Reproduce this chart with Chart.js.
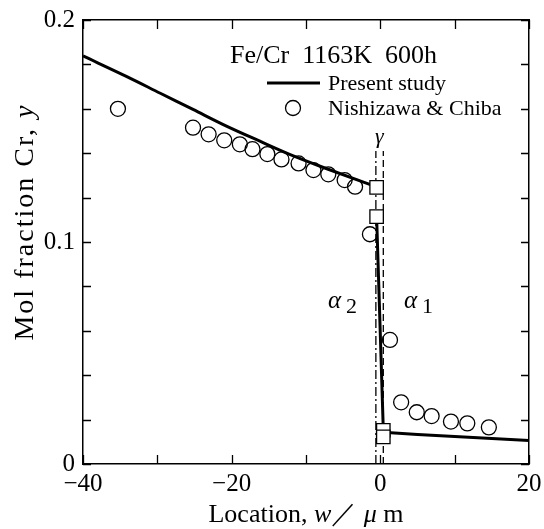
<!DOCTYPE html>
<html>
<head>
<meta charset="utf-8">
<script src="https://cdn.jsdelivr.net/npm/chart.js@4"></script>
<style>
  body { margin: 0; background: #fff; }
  #wrap { width: 544px; height: 529px; }
</style>
</head>
<body>
<div id="wrap"><canvas id="diffChart" width="544" height="529"></canvas></div>
<script>
// calculated profile (Present study), three branches
const calcLeftW = [-40, -34.1, -29.6, -25.2, -20.7, -16.2, -11.7, -7.2, -0.5];
const calcLeftY = [0.1838, 0.1745, 0.1670, 0.1597, 0.1522, 0.1454, 0.1388, 0.1330, 0.1248];
const calcMidW = [-0.5, 0.4];
const calcMidY = [0.1114, 0.0152];
const calcRightW = [0.4, 5, 10, 15, 20];
const calcRightY = [0.0143, 0.0133, 0.0124, 0.0115, 0.0106];

// measured (Nishizawa & Chiba)
const measW = [-35.3, -25.2, -23.1, -21.0, -18.9, -17.2, -15.2, -13.3, -11.0, -9.0, -7.0, -4.8, -3.4, -1.4, 1.3, 2.8, 4.9, 6.9, 9.5, 11.7, 14.6];
const measY = [0.160, 0.1515, 0.1485, 0.1458, 0.1440, 0.1418, 0.1396, 0.1372, 0.1354, 0.1324, 0.1305, 0.1279, 0.1249, 0.1035, 0.0559, 0.0278, 0.0233, 0.0216, 0.0191, 0.0183, 0.0165];

// interface compositions
const ifaceW = [-0.5, -0.5, 0.4, 0.4];
const ifaceY = [0.1246, 0.1114, 0.0152, 0.0122];

// gamma layer boundaries
const gammaW = [-0.6, 0.4];
const gammaTop = 0.141;

const xTickValues = [-40, -20, 0, 20];
const xTickLabels = ['\u221240', '\u221220', '0', '20'];
const yTickValues = [0, 0.1, 0.2];
const yTickLabels = ['0', '0.1', '0.2'];

const SERIF = '"Liberation Serif", "DejaVu Serif", serif';

function pts(ws, ys) {
    return ws.map((w, i) => ({ x: w, y: ys[i] }));
}

function labelFor(values, labels, v) {
    const i = values.findIndex(t => Math.abs(t - v) < 1e-9);
    return i >= 0 ? labels[i] : '';
}

// inward ticks on all four sides + text annotations
const decorPlugin = {
    id: 'decor',
    afterDatasetsDraw(chart) {
        const ctx = chart.ctx;
        const xs = chart.scales.x, ys = chart.scales.y;
        const a = chart.chartArea;
        ctx.save();
        ctx.strokeStyle = '#000';
        ctx.lineWidth = 1.3;
        ctx.beginPath();
        xs.ticks.forEach(t => {
            const px = Math.round(xs.getPixelForValue(t.value)) + 0.5;
            ctx.moveTo(px, a.bottom); ctx.lineTo(px, a.bottom - 9);
            ctx.moveTo(px, a.top); ctx.lineTo(px, a.top + 9);
        });
        ys.ticks.forEach(t => {
            const py = Math.round(ys.getPixelForValue(t.value)) + 0.5;
            ctx.moveTo(a.left, py); ctx.lineTo(a.left + 8, py);
            ctx.moveTo(a.right, py); ctx.lineTo(a.right - 8, py);
        });
        ctx.stroke();

        ctx.fillStyle = '#000';
        ctx.textBaseline = 'alphabetic';
        ctx.textAlign = 'left';

        // header and legend
        ctx.font = '26px ' + SERIF;
        ctx.fillText('Fe/Cr  1163K  600h', 230, 63);
        ctx.lineWidth = 3;
        ctx.beginPath();
        ctx.moveTo(267, 83); ctx.lineTo(320, 83);
        ctx.stroke();
        ctx.lineWidth = 1.3;
        ctx.beginPath();
        ctx.arc(293, 108, 7.5, 0, Math.PI * 2);
        ctx.stroke();
        ctx.font = '22px ' + SERIF;
        ctx.fillText('Present study', 328, 90);
        ctx.fillText('Nishizawa & Chiba', 328, 115);

        // phase labels
        ctx.font = 'italic 22px ' + SERIF;
        ctx.fillText('\u03b3', 375, 143);
        ctx.font = 'italic 25px ' + SERIF;
        ctx.fillText('\u03b1', 328, 308);
        ctx.fillText('\u03b1', 404, 308);
        ctx.font = '22px ' + SERIF;
        ctx.fillText('2', 346, 313);
        ctx.fillText('1', 422, 313);

        // x axis title
        const parts = [
            ['Location, ', '26px '],
            ['w', 'italic 26px '],
            ['\uff0f ', '26px '],
            ['\u03bc', 'italic 26px '],
            [' m', '26px ']
        ];
        let total = 0;
        parts.forEach(p => { ctx.font = p[1] + SERIF; total += ctx.measureText(p[0]).width; });
        let cx = 306 - total / 2;
        parts.forEach(p => {
            ctx.font = p[1] + SERIF;
            ctx.fillText(p[0], cx, 522);
            cx += ctx.measureText(p[0]).width;
        });

        // y axis title
        ctx.translate(33, 222);
        ctx.rotate(-Math.PI / 2);
        ctx.letterSpacing = '2px';
        const t1 = 'Mol fraction Cr, ';
        ctx.font = 'italic 28px ' + SERIF;
        const wy = ctx.measureText('y').width;
        ctx.font = '28px ' + SERIF;
        const w1 = ctx.measureText(t1).width;
        const start = -(w1 + wy) / 2;
        ctx.fillText(t1, start, 0);
        ctx.font = 'italic 28px ' + SERIF;
        ctx.fillText('y', start + w1, 0);
        ctx.restore();
    }
};

const ctx = document.getElementById('diffChart').getContext('2d');

new Chart(ctx, {
    type: 'scatter',
    data: {
        datasets: [
            {
                label: 'interface',
                data: pts(ifaceW, ifaceY),
                pointStyle: 'rect',
                pointRadius: 9.5,
                backgroundColor: '#fff',
                borderColor: '#000',
                borderWidth: 1.3,
                showLine: false
            },
            {
                label: 'Nishizawa & Chiba',
                data: pts(measW, measY),
                pointStyle: 'circle',
                pointRadius: 7.5,
                backgroundColor: 'rgba(0,0,0,0)',
                borderColor: '#000',
                borderWidth: 1.3,
                showLine: false
            },
            {
                label: 'Present study',
                data: pts(calcLeftW, calcLeftY),
                showLine: true, pointRadius: 0,
                cubicInterpolationMode: 'monotone',
                borderColor: '#000', borderWidth: 3
            },
            {
                label: 'Present study mid',
                data: pts(calcMidW, calcMidY),
                showLine: true, pointRadius: 0,
                borderColor: '#000', borderWidth: 3
            },
            {
                label: 'Present study right',
                data: pts(calcRightW, calcRightY),
                showLine: true, pointRadius: 0,
                borderColor: '#000', borderWidth: 3
            },
            {
                label: 'gamma left',
                data: [{ x: gammaW[0], y: 0 }, { x: gammaW[0], y: gammaTop }],
                showLine: true, pointRadius: 0,
                borderColor: '#000', borderWidth: 1.3,
                borderDash: [9, 3, 2, 3]
            },
            {
                label: 'gamma right',
                data: [{ x: gammaW[1], y: 0 }, { x: gammaW[1], y: gammaTop }],
                showLine: true, pointRadius: 0,
                borderColor: '#000', borderWidth: 1.3,
                borderDash: [7, 4]
            }
        ]
    },
    options: {
        responsive: false,
        animation: false,
        devicePixelRatio: 1,
        layout: { padding: { left: 0, right: 15, top: 20, bottom: 0 } },
        plugins: {
            legend: { display: false },
            tooltip: { enabled: false }
        },
        scales: {
            x: {
                type: 'linear',
                position: 'bottom',
                min: -40, max: 20,
                grid: { display: false, drawTicks: false },
                border: { display: true, color: '#000', width: 1.5 },
                ticks: {
                    stepSize: 10,
                    autoSkip: false,
                    maxRotation: 0,
                    padding: 5,
                    color: '#000',
                    font: { family: SERIF, size: 25 },
                    callback: v => labelFor(xTickValues, xTickLabels, v)
                },
                afterFit(scale) {
                    scale.height = 65;
                    scale.paddingLeft = 0;
                    scale.paddingRight = 0;
                }
            },
            y: {
                type: 'linear',
                position: 'left',
                min: 0, max: 0.2,
                grid: { display: false, drawTicks: false },
                border: { display: true, color: '#000', width: 1.5 },
                ticks: {
                    stepSize: 0.02,
                    autoSkip: false,
                    padding: 8,
                    color: '#000',
                    font: { family: SERIF, size: 25 },
                    callback: v => labelFor(yTickValues, yTickLabels, v)
                },
                afterFit(scale) {
                    scale.width = 83;
                    scale.paddingTop = 0;
                    scale.paddingBottom = 0;
                }
            },
            x2: {
                type: 'linear',
                position: 'top',
                min: -40, max: 20,
                grid: { display: false, drawTicks: false },
                border: { display: true, color: '#000', width: 1.5 },
                ticks: { display: false },
                afterFit(scale) { scale.height = 0; }
            },
            y2: {
                type: 'linear',
                position: 'right',
                min: 0, max: 0.2,
                grid: { display: false, drawTicks: false },
                border: { display: true, color: '#000', width: 1.5 },
                ticks: { display: false },
                afterFit(scale) { scale.width = 0; }
            }
        }
    },
    plugins: [decorPlugin]
});
</script>
</body>
</html>
